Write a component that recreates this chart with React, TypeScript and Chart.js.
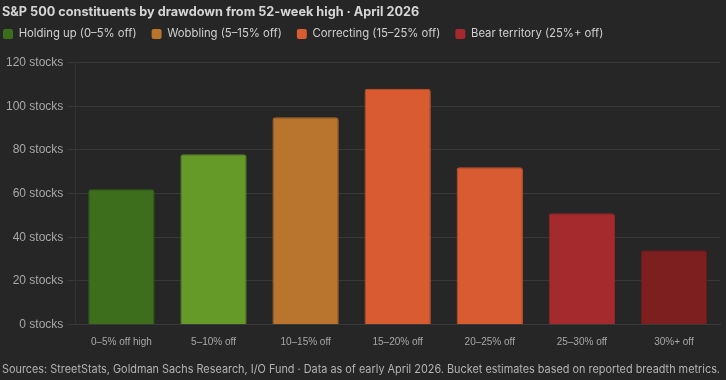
import React, { useEffect, useRef } from "react";
import { Chart, registerables } from "chart.js";

Chart.register(...registerables);

const categories = ["0–5% off high", "5–10% off", "10–15% off", "15–20% off", "20–25% off", "25–30% off", "30%+ off"];
const stockCounts = [62, 78, 95, 108, 72, 51, 34];
const barColors = ["#3d6e1b", "#659a29", "#b9742e", "#d95b31", "#d95b31", "#a42a2d", "#7d1e1f"];
const barBorders = ["#34601a", "#578a24", "#a86a2a", "#c8522c", "#c8522c", "#942528", "#6e1a1b"];
const legendLabels = ["Holding up (0–5% off)", "Wobbling (5–15% off)", "Correcting (15–25% off)", "Bear territory (25%+ off)"];
const legendColors = ["#3d6e1b", "#b9742e", "#d95b31", "#a42a2d"];
const yTicks = [0, 20, 40, 60, 80, 100, 120];
const titleText = "S&P 500 constituents by drawdown from 52-week high · April 2026";
const footerText = "Sources: StreetStats, Goldman Sachs Research, I/O Fund · Data as of early April 2026. Bucket estimates based on reported breadth metrics.";

const legendAdjust = {
  id: "legendAdjust",
  beforeInit(chart: any) {
    const orig = chart.legend.fit;
    chart.legend.fit = function () {
      orig.bind(chart.legend)();
      this.height += 13;
    };
  },
  afterLayout(chart: any) {
    chart.legend.left -= 14;
  },
};

export default function App() {
  const ref = useRef<HTMLCanvasElement | null>(null);
  useEffect(() => {
    document.body.style.margin = "0";
    document.body.style.background = "#262626";
    if (!ref.current) return;
    const chart = new Chart(ref.current, {
      type: "bar",
      data: {
        labels: categories,
        datasets: [
          {
            data: stockCounts,
            backgroundColor: barColors,
            borderColor: barBorders,
            borderWidth: 1,
            borderRadius: { topLeft: 3, topRight: 3, bottomLeft: 0, bottomRight: 0 },
            borderSkipped: "bottom",
            categoryPercentage: 0.8,
            barPercentage: 0.9,
          },
        ],
      },
      plugins: [legendAdjust],
      options: {
        animation: false,
        responsive: false,
        maintainAspectRatio: false,
        layout: { padding: { left: 2, right: 6, top: 2, bottom: 2 } },
        plugins: {
          title: {
            display: true,
            text: titleText,
            align: "start",
            color: "#d6d6d6",
            font: { family: "Inter", size: 12.7, weight: "bold" },
            padding: { top: 3, bottom: -7 },
          },
          subtitle: {
            display: true,
            text: footerText,
            position: "bottom",
            align: "start",
            color: "#b4b4b4",
            font: { family: "Inter", size: 11.2 },
            padding: { top: 2, bottom: 2 },
          },
          legend: {
            display: true,
            align: "start",
            labels: {
              color: "#d0d0d0",
              font: { family: "Inter", size: 11.3 },
              boxWidth: 10,
              boxHeight: 10,
              padding: 15,
              useBorderRadius: true,
              borderRadius: 2,
              generateLabels: () =>
                legendLabels.map((t, i) => ({
                  text: t,
                  fillStyle: legendColors[i],
                  strokeStyle: legendColors[i],
                  lineWidth: 0,
                  fontColor: "#d0d0d0",
                  hidden: false,
                  datasetIndex: 0,
                  borderRadius: 2,
                })),
            },
            onClick: () => {},
          },
          tooltip: { enabled: false },
        },
        scales: {
          x: {
            grid: { display: false, drawTicks: false },
            border: { display: true, color: "#3a3a3a" },
            ticks: {
              color: "#a8a8a8",
              font: { family: "Liberation Sans", size: 10 },
              padding: 12,
            },
          },
          y: {
            min: 0,
            max: 120,
            afterBuildTicks: (axis: any) => {
              axis.ticks = yTicks.map((v) => ({ value: v }));
            },
            grid: { color: "#383838", tickLength: 8 },
            border: { display: true, color: "#333333" },
            ticks: {
              color: "#a8a8a8",
              font: { family: "Liberation Sans", size: 12 },
              padding: 4,
              callback: (v: any) => `${v} stocks`,
            },
          },
        },
      },
    });
    return () => chart.destroy();
  }, []);
  return (
    <div style={{ width: 726, height: 380, background: "#262626" }}>
      <canvas ref={ref} width={726} height={380} />
    </div>
  );
}
